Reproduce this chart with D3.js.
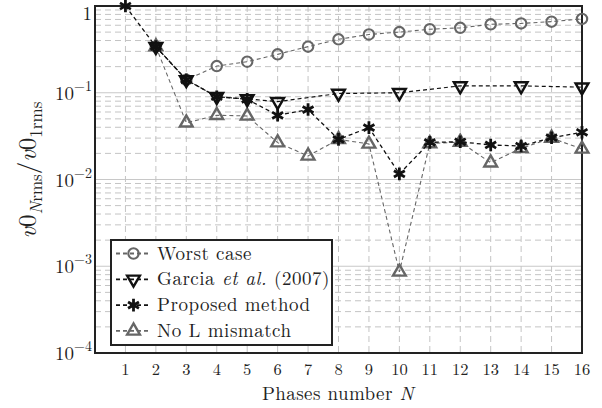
<!DOCTYPE html>
<html>
<head>
<meta charset="utf-8">
<script src="https://cdn.jsdelivr.net/npm/d3@7"></script>
<style>
  body { margin: 0; background: #fff; }
  svg { display: block; }
  text { font-family: "Latin Modern Roman", "Liberation Serif", "DejaVu Serif", serif; fill: #222; }
</style>
</head>
<body>
<svg id="chart" width="602" height="408"></svg>
<script>
// phases N
var phases = [1, 2, 3, 4, 5, 6, 7, 8, 9, 10, 11, 12, 13, 14, 15, 16];
// ratio v0_Nrms / v0_1rms (null = no point)
var worstCase = [null, 0.34, 0.141, 0.203, 0.228, 0.277, 0.34, 0.413, 0.47, 0.50, 0.54, 0.56, 0.615, 0.63, 0.66, 0.71];
var garcia    = [null, 0.34, 0.141, 0.090, 0.085, 0.079, null, 0.098, null, 0.100, null, 0.120, null, 0.120, null, 0.116];
var proposed  = [1.0, 0.34, 0.141, 0.090, 0.084, 0.055, 0.064, 0.029, 0.0396, 0.0116, 0.0268, 0.0272, 0.025, 0.0243, 0.0303, 0.035];
var noMismatch = [null, 0.34, 0.045, 0.055, 0.054, 0.0266, 0.0187, 0.029, 0.0257, 0.00086, 0.026, 0.027, 0.0156, 0.0229, 0.030, 0.0225];

var yTicks = [1e-4, 1e-3, 1e-2, 1e-1, 1];
var yTickExp = ["−4", "−3", "−2", "−1", ""];

(function() {
var svg = d3.select("#chart");
var pLeft = 95, pRight = 582, pTop = 6, pBottom = 353;

var x = d3.scaleLinear().domain([0, 16]).range([pLeft, pRight]);
var y = d3.scaleLog().domain([1e-4, 1]).range([pBottom, pTop]);

// grid
var grid = svg.append("g").attr("class", "grid");
var minor = [];
for (var e = -4; e < 0; e++) {
    for (var m = 2; m <= 9; m++) minor.push(m * Math.pow(10, e));
}
grid.selectAll(".hminor").data(minor).enter().append("line")
    .attr("x1", pLeft).attr("x2", pRight)
    .attr("y1", d => y(d)).attr("y2", d => y(d))
    .attr("stroke", "#c4c4c4").attr("stroke-width", 1)
    .attr("stroke-dasharray", "6,4");
grid.selectAll(".hmajor").data(yTicks.slice(1, 4)).enter().append("line")
    .attr("x1", pLeft).attr("x2", pRight)
    .attr("y1", d => y(d)).attr("y2", d => y(d))
    .attr("stroke", "#c8c8c8").attr("stroke-width", 1.2);
grid.selectAll(".vgrid").data(phases.slice(0, 15)).enter().append("line")
    .attr("x1", d => x(d)).attr("x2", d => x(d))
    .attr("y1", pTop).attr("y2", pBottom)
    .attr("stroke", "#c4c4c4").attr("stroke-width", 1)
    .attr("stroke-dasharray", "6,4");

// frame
svg.append("rect")
    .attr("x", pLeft).attr("y", pTop)
    .attr("width", pRight - pLeft).attr("height", pBottom - pTop)
    .attr("fill", "none").attr("stroke", "#222").attr("stroke-width", 2);

// x tick labels
svg.append("g").selectAll("text").data(phases).enter().append("text")
    .attr("x", d => x(d)).attr("y", 375)
    .attr("text-anchor", "middle").attr("font-size", 16.5)
    .text(d => d);

// y tick labels
var yl = svg.append("g").selectAll("text").data(yTicks).enter().append("text")
    .attr("x", 92)
    .attr("y", d => d === 1 ? y(d) + 14 : y(d) + 7)
    .attr("text-anchor", "end").attr("font-size", 19);
yl.each(function(d, i) {
    var t = d3.select(this);
    if (d === 1) { t.text("1"); return; }
    t.append("tspan").text("10");
    t.append("tspan").attr("dy", -9).attr("font-size", 14).text(yTickExp[i]);
});

// axis titles
var xt = svg.append("text").attr("x", 338).attr("y", 400)
    .attr("text-anchor", "middle").attr("font-size", 19).attr("letter-spacing", 0.4);
xt.append("tspan").text("Phases number ");
xt.append("tspan").attr("font-style", "italic").text("N");

var yt = svg.append("text")
    .attr("transform", "translate(36,170) rotate(-90)")
    .attr("text-anchor", "middle").attr("font-size", 25);
yt.append("tspan").attr("font-style", "italic").text("v");
yt.append("tspan").text("0");
yt.append("tspan").attr("dy", 6).attr("font-size", 17).attr("font-style", "italic").text("N");
yt.append("tspan").attr("font-size", 17).text("rms");
yt.append("tspan").attr("dy", -6).text("/");
yt.append("tspan").attr("font-style", "italic").text("v");
yt.append("tspan").text("0");
yt.append("tspan").attr("dy", 6).attr("font-size", 17).text("1rms");

// marker shapes
function markerPath(kind) {
    if (kind === "circle") return d3.symbol().type(d3.symbolCircle).size(Math.PI * 5.2 * 5.2)();
    if (kind === "tdown") return "M0,7.4L-6.4,-3.7L6.4,-3.7Z";
    if (kind === "tup") return "M0,-7.4L-6.4,3.7L6.4,3.7Z";
    // asterisk: three strokes
    var r = 6.3, p = "";
    [90, 30, -30].forEach(function(a) {
        var c = Math.cos(a * Math.PI / 180) * r, s = Math.sin(a * Math.PI / 180) * r;
        p += "M" + (-c) + "," + (-s) + "L" + c + "," + s;
    });
    return p;
}

var series = [
    {name: "worst", values: worstCase, color: "#666", marker: "circle", sw: 2.1, lw: 1.1},
    {name: "noL", values: noMismatch, color: "#666", marker: "tup", sw: 2.4, lw: 1.1},
    {name: "garcia", values: garcia, color: "#111", marker: "tdown", sw: 2.4, lw: 1.2},
    {name: "proposed", values: proposed, color: "#111", marker: "star", sw: 2.8, lw: 1.3}
];

var line = d3.line().x(d => x(d.n)).y(d => y(d.v));

series.forEach(function(s) {
    var pts = phases.map((n, i) => ({n: n, v: s.values[i]})).filter(d => d.v != null);
    var g = svg.append("g").attr("class", "series-" + s.name);
    g.append("path").datum(pts)
        .attr("d", line)
        .attr("fill", "none").attr("stroke", s.color)
        .attr("stroke-width", s.lw).attr("stroke-dasharray", "4,3");
    g.selectAll(".mk").data(pts).enter().append("path")
        .attr("transform", d => "translate(" + x(d.n) + "," + y(d.v) + ")")
        .attr("d", markerPath(s.marker))
        .attr("fill", "none").attr("stroke", s.color)
        .attr("stroke-width", s.sw).attr("stroke-linejoin", "miter");
});

// legend
var legendItems = [
    {label: ["Worst case"], color: "#666", marker: "circle", sw: 2.1},
    {label: ["Garcia ", "et al.", " (2007)"], color: "#111", marker: "tdown", sw: 2.4},
    {label: ["Proposed method"], color: "#111", marker: "star", sw: 2.8},
    {label: ["No L mismatch"], color: "#666", marker: "tup", sw: 2.4}
];
var lg = svg.append("g").attr("id", "legend");
lg.append("rect").attr("x", 111).attr("y", 240).attr("width", 221).attr("height", 105)
    .attr("fill", "#fff").attr("stroke", "#222").attr("stroke-width", 2);
legendItems.forEach(function(it, i) {
    var cy = 253.5 + i * 25.8;
    lg.append("line").attr("x1", 116).attr("x2", 151).attr("y1", cy).attr("y2", cy)
        .attr("stroke", it.color).attr("stroke-width", 1.8).attr("stroke-dasharray", "4,3");
    lg.append("path").attr("transform", "translate(133.5," + cy + ")")
        .attr("d", markerPath(it.marker))
        .attr("fill", "none").attr("stroke", it.color).attr("stroke-width", it.sw);
    var t = lg.append("text").attr("x", 157).attr("y", cy + 6)
        .attr("font-size", 19).attr("letter-spacing", 0.5);
    it.label.forEach(function(part, k) {
        t.append("tspan").attr("font-style", k === 1 ? "italic" : null).text(part);
    });
});
})();
</script>
</body>
</html>
